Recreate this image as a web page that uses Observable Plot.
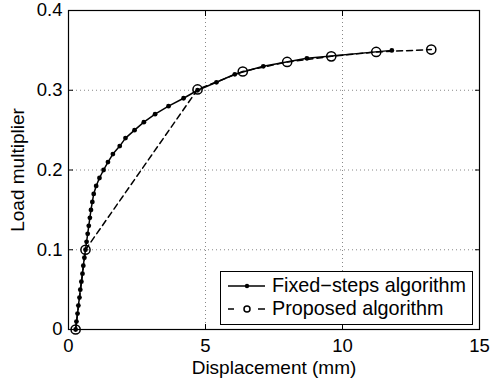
<!DOCTYPE html>
<html><head><meta charset="utf-8">
<script src="https://cdn.jsdelivr.net/npm/d3@7"></script>
<script src="https://cdn.jsdelivr.net/npm/@observablehq/plot@0.6"></script>
<style>
body{margin:0;background:#fff;font-family:"Liberation Sans",Arial,sans-serif}
#wrap{position:relative;width:490px;height:381px;overflow:hidden}
#legend{position:absolute;left:220px;top:271px;width:253px;height:54px;border:1px solid #000;background:#fff;font-size:19.8px;color:#000;box-sizing:border-box;padding-top:2px}
.row{display:flex;align-items:center;height:23px;white-space:nowrap}
.row svg{flex:none}
</style></head><body><div id="wrap"></div>
<script>
// Fixed-steps algorithm (load steps of 0.01)
const fixedX = [0.26,0.29,0.33,0.36,0.40,0.43,0.47,0.51,0.54,0.58,0.62,0.66,0.70,0.74,0.78,0.82,0.87,0.92,1.01,1.13,1.28,1.44,1.62,1.87,2.08,2.41,2.75,3.16,3.65,4.20,4.71,5.40,6.07,7.11,8.70,11.80];
const fixedY = [0,0.01,0.02,0.03,0.04,0.05,0.06,0.07,0.08,0.09,0.10,0.11,0.12,0.13,0.14,0.15,0.16,0.17,0.18,0.19,0.20,0.21,0.22,0.23,0.24,0.25,0.26,0.27,0.28,0.29,0.30,0.31,0.32,0.33,0.34,0.35];
// Proposed algorithm
const propX = [0.26,0.62,4.71,6.36,7.98,9.59,11.23,13.24];
const propY = [0,0.10,0.301,0.3235,0.3355,0.3425,0.348,0.351];
const seriesNames = ["Fixed\u2212steps algorithm","Proposed algorithm"];
const xTicks = [0,5,10,15];
const yTicks = [0,0.1,0.2,0.3,0.4];
const xLabel = "Displacement (mm)";
const yLabel = "Load multiplier";

const fixed = fixedX.map((x,i)=>({x, y: fixedY[i]}));
const prop = propX.map((x,i)=>({x, y: propY[i]}));
const fmtY = d => d === 0 ? "0" : d.toFixed(1);

const chart = Plot.plot({
  width: 490, height: 381,
  marginLeft: 68, marginRight: 11, marginTop: 10, marginBottom: 52,
  style: {fontFamily: '"Liberation Sans", Arial, sans-serif', fontSize: "18.5px", background: "white", color: "black"},
  x: {domain: [0, 15]},
  y: {domain: [0, 0.4]},
  marks: [
    Plot.gridX(xTicks, {stroke: "#888", strokeOpacity: 1, strokeDasharray: "1,3"}),
    Plot.gridY(yTicks, {stroke: "#888", strokeOpacity: 1, strokeDasharray: "1,3"}),
    Plot.axisX({ticks: xTicks, tickSize: -5, tickPadding: 14, fontSize: 18.5, tickFormat: d => String(d), label: null}),
    Plot.axisX({ticks: [], label: xLabel, fontSize: 19, labelAnchor: "center", labelOffset: 44, labelArrow: "none"}),
    Plot.axisX({anchor: "top", ticks: xTicks, tickSize: -5, tickFormat: () => "", label: null}),
    Plot.axisY({ticks: yTicks, tickSize: -5, tickPadding: 11, fontSize: 18.5, tickFormat: fmtY, label: null}),
    Plot.axisY({ticks: [], label: yLabel, fontSize: 19, labelAnchor: "center", labelOffset: 58, labelArrow: "none"}),
    Plot.axisY({anchor: "right", ticks: yTicks, tickSize: -5, tickFormat: () => "", label: null}),
    Plot.frame({stroke: "black", strokeWidth: 1.2}),
    Plot.line(prop, {x: "x", y: "y", stroke: "black", strokeWidth: 1.5, strokeDasharray: "6,4"}),
    Plot.line(fixed, {x: "x", y: "y", stroke: "black", strokeWidth: 1.5}),
    Plot.dot(fixed, {x: "x", y: "y", r: 2.4, fill: "black"}),
    Plot.dot(prop, {x: "x", y: "y", r: 4.6, stroke: "black", strokeWidth: 1.5, fill: "none"})
  ]
});
const wrap = document.getElementById("wrap");
wrap.appendChild(chart);

// legend
const legend = document.createElement("div");
legend.id = "legend";
const samples = [
  `<svg width="51" height="20"><line x1="7" y1="10" x2="44" y2="10" stroke="black" stroke-width="1.5"/><circle cx="26" cy="10" r="2.2" fill="black"/></svg>`,
  `<svg width="51" height="20"><line x1="7" y1="10" x2="13" y2="10" stroke="black" stroke-width="1.5"/><line x1="37" y1="10" x2="44" y2="10" stroke="black" stroke-width="1.5"/><circle cx="26" cy="10" r="3" fill="none" stroke="black" stroke-width="1.5"/></svg>`
];
seriesNames.forEach((name, i) => {
  const row = document.createElement("div");
  row.className = "row";
  row.innerHTML = samples[i] + `<span>${name}</span>`;
  legend.appendChild(row);
});
wrap.appendChild(legend);
</script>
</body></html>
